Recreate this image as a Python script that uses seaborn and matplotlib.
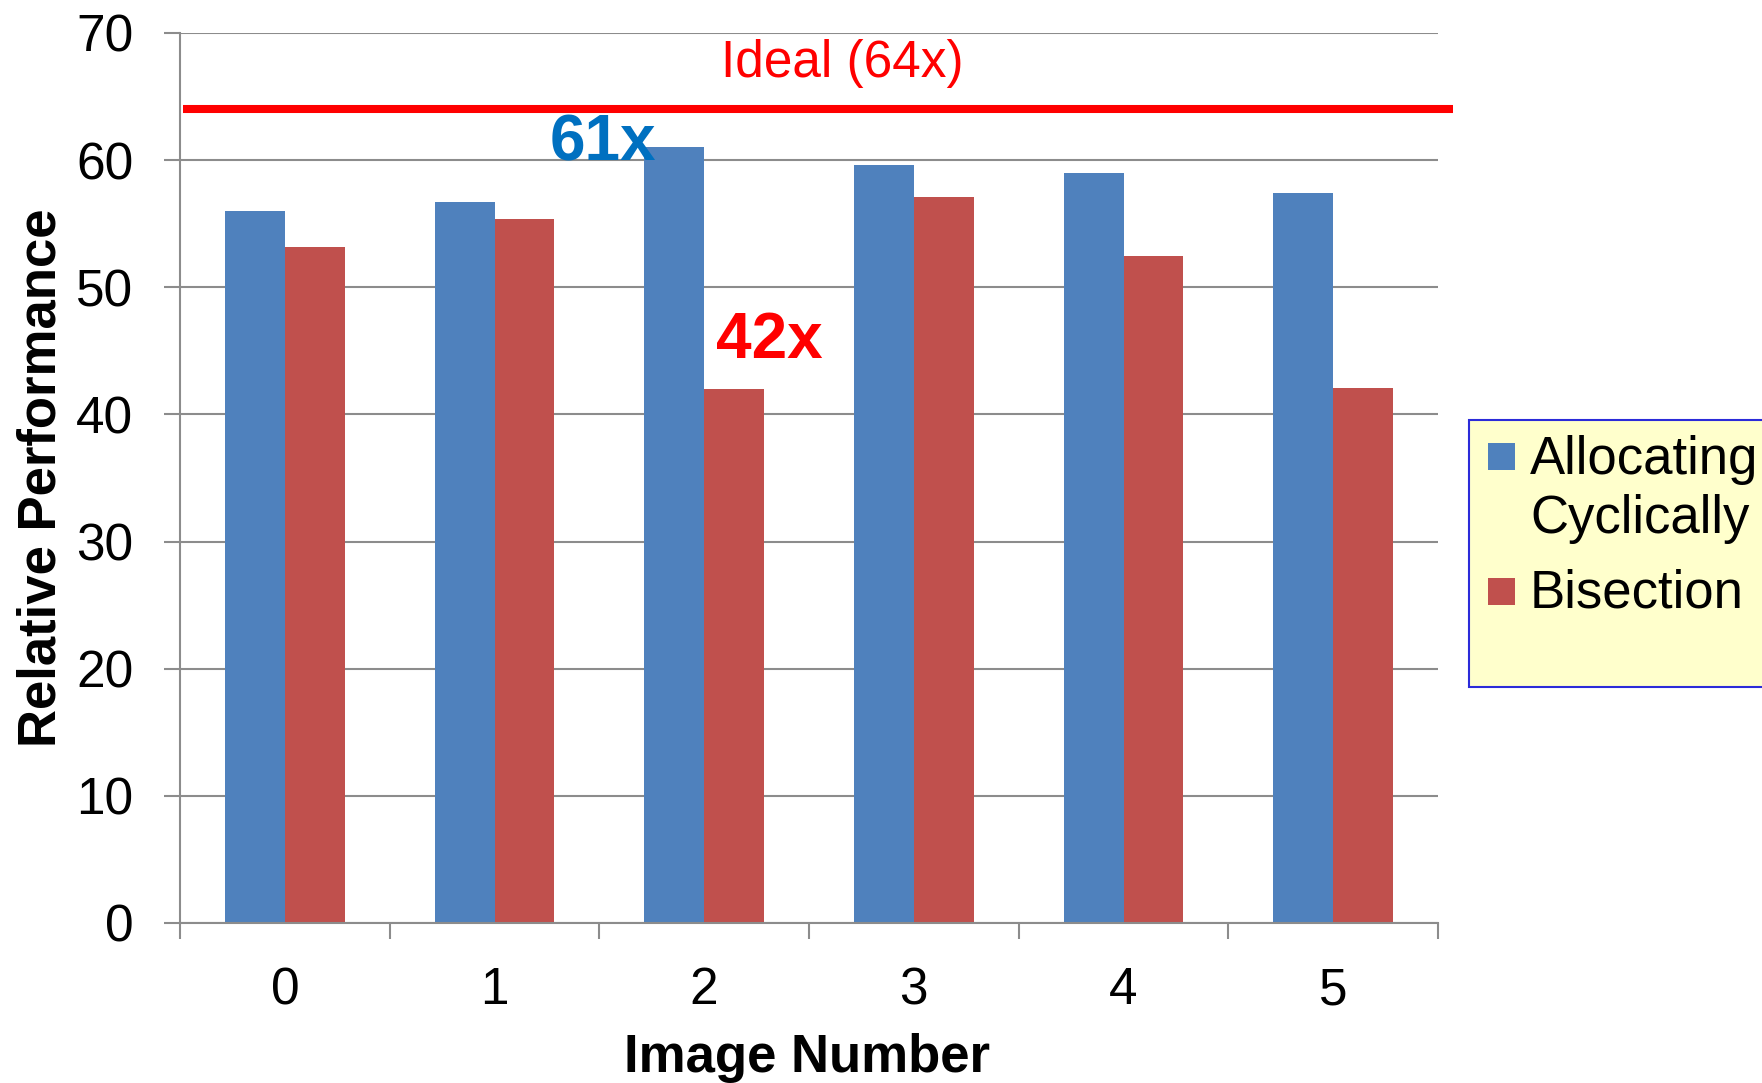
import matplotlib
matplotlib.use("Agg")
import matplotlib.pyplot as plt
from matplotlib.patches import Rectangle
from matplotlib.ticker import FixedLocator
import pandas as pd
import seaborn as sns

# Speedup per image for the two work-distribution schemes
images = ["0", "1", "2", "3", "4", "5"]
cyclic = [56.0, 56.7, 61.0, 59.6, 59.0, 57.4]
bisection = [53.2, 55.4, 42.0, 57.1, 52.5, 42.1]
methods = ["Allocating\nCyclically", "Bisection"]
colors = ["#4F81BD", "#C0504D"]
ideal = 64
y_ticks = [0, 10, 20, 30, 40, 50, 60, 70]

df = pd.DataFrame({
    "Image Number": images * 2,
    "Relative Performance": cyclic + bisection,
    "Method": [methods[0]] * len(images) + [methods[1]] * len(images),
})

sns.set_style("white")
plt.rcParams["font.family"] = ["Liberation Sans", "DejaVu Sans"]
plt.rcParams["text.color"] = "black"
plt.rcParams["axes.labelcolor"] = "black"
plt.rcParams["xtick.labelcolor"] = "black"
plt.rcParams["ytick.labelcolor"] = "black"

W, H = 1762, 1083
fig = plt.figure(figsize=(W / 100, H / 100), dpi=100)
ax = fig.add_axes([180 / W, 1 - 923 / H, 1258 / W, 890 / H])

sns.barplot(data=df, x="Image Number", y="Relative Performance", hue="Method",
            hue_order=methods, palette=colors, width=0.57, saturation=1,
            errorbar=None, linewidth=0, legend=False, ax=ax)

grid_gray = "#8C8C8C"
ax.set_xlim(-0.5, 5.5)
ax.set_ylim(0, 70)
ax.set_yticks(y_ticks)
ax.yaxis.grid(True, color=grid_gray, lw=1.5)
ax.xaxis.grid(False)
ax.set_axisbelow(True)
for side in ("top", "right"):
    ax.spines[side].set_visible(False)
for side in ("left", "bottom"):
    ax.spines[side].set_color(grid_gray)
    ax.spines[side].set_linewidth(1.5)

# category separators on the x axis
ax.xaxis.set_minor_locator(FixedLocator([i - 0.5 for i in range(len(images) + 1)]))
ax.tick_params(axis="x", which="major", length=0, pad=31, labelsize=37,
               labelcolor="black")
ax.tick_params(axis="x", which="minor", length=11.5, width=1.5, color=grid_gray,
               direction="out", bottom=True)
ax.tick_params(axis="y", which="major", length=11.5, width=1.5, color=grid_gray,
               direction="out", pad=22, labelsize=37, left=True, labelcolor="black")

ax.set_xlabel("Image Number", fontsize=38, fontweight="bold", color="black")
ax.xaxis.set_label_coords(0.4984, -0.1236)
ax.set_ylabel("Relative Performance", fontsize=38, fontweight="bold", color="black")
ax.yaxis.set_label_coords(-0.090, 0.5)

# ideal speedup reference line
ax.plot([-0.486, 5.57], [ideal, ideal], color="#FF0000", lw=5.8,
        solid_capstyle="butt", clip_on=False, zorder=3)
ax.text(2.657, 66.56, f"Ideal ({ideal}x)", color="#FF0000", fontsize=37,
        ha="center", va="baseline")
ax.text(1.517, 60.0, f"{cyclic[2]:.0f}x", color="#0070C0", fontsize=46,
        fontweight="bold", ha="center", va="baseline")
ax.text(2.31, 44.45, f"{bisection[2]:.0f}x", color="#FF0000", fontsize=46,
        fontweight="bold", ha="center", va="baseline")

# legend box
fig.patches.append(Rectangle((1469 / W, 1 - 687 / H), 0.2, (687 - 420) / H,
                             transform=fig.transFigure, facecolor="#FFFFCC",
                             edgecolor="#2B2BD9", lw=1.5, zorder=0))
square_tops = [443, 578]
first_baselines = [474, 608]
for color, label, top, base in zip(colors, methods, square_tops, first_baselines):
    fig.patches.append(Rectangle((1488 / W, 1 - (top + 27) / H), 27 / W, 27 / H,
                                 transform=fig.transFigure, facecolor=color,
                                 lw=0, zorder=1))
    for k, line in enumerate(label.split("\n")):
        fig.text(1530 / W, 1 - (base + 59 * k) / H, line, fontsize=38,
                 ha="left", va="baseline", color="black")

fig.savefig("out.png", dpi=100)
